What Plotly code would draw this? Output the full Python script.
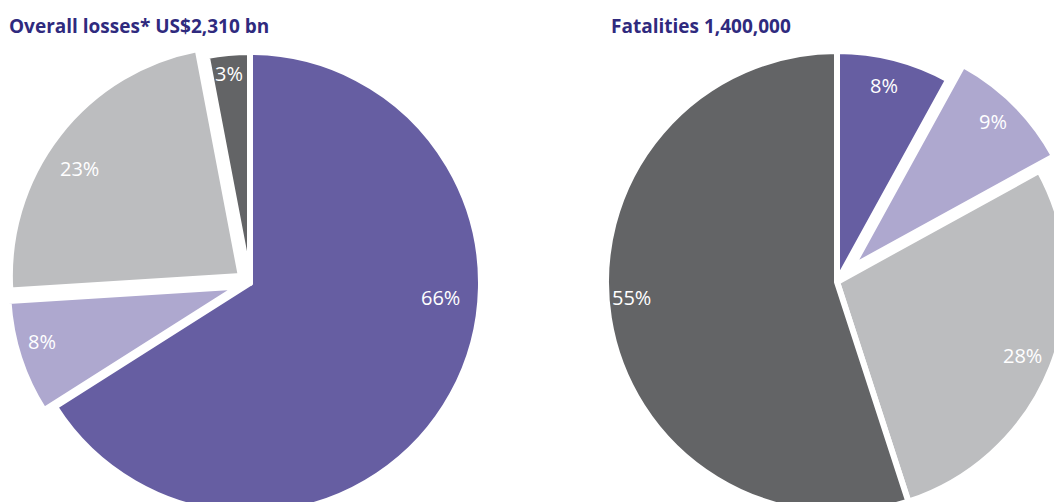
import plotly.graph_objects as go

# Share of overall losses and of fatalities by event category (%)
categories = ["Category A", "Category B", "Category C", "Category D"]
losses_share = [66, 8, 23, 3]
fatalities_share = [8, 9, 28, 55]

losses_title = "Overall losses* US$2,310 bn"
fatalities_title = "Fatalities 1,400,000"

losses_colors = ["#665ea2", "#aea8cf", "#bcbdbf", "#636466"]
fatalities_colors = ["#665ea2", "#aea8cf", "#bcbdbf", "#636466"]

losses_pull = [0, 0.05, 0.05, 0]
fatalities_pull = [0, 0.09, 0, 0]

# Canvas a little larger than the viewport so the pies run off the edges
W, H = 1100, 540


def domain_for(cx, cy, r, pull):
    half = r * (1 + max(pull))
    return dict(
        x=[(cx - half) / W, (cx + half) / W],
        y=[1 - (cy + half) / H, 1 - (cy - half) / H],
    )


fig = go.Figure()
fig.add_trace(go.Pie(
    labels=categories, values=losses_share, sort=False, direction="clockwise",
    rotation=0, pull=losses_pull, textinfo="none", hoverinfo="label+percent",
    marker=dict(colors=losses_colors, line=dict(color="white", width=6)),
    domain=domain_for(250, 283, 231, losses_pull), showlegend=False,
))
fig.add_trace(go.Pie(
    labels=categories, values=fatalities_share, sort=False, direction="clockwise",
    rotation=0, pull=fatalities_pull, textinfo="none", hoverinfo="label+percent",
    marker=dict(colors=fatalities_colors, line=dict(color="white", width=6)),
    domain=domain_for(837, 282, 231, fatalities_pull), showlegend=False,
))

# Percentage labels placed inside each slice
losses_label_xy = [(441, 297), (42, 341), (79, 168), (229, 73)]
fatalities_label_xy = [(884, 85), (993, 122), (1022, 355), (631, 297)]

annotations = []
for vals, spots in ((losses_share, losses_label_xy), (fatalities_share, fatalities_label_xy)):
    for v, (px, py) in zip(vals, spots):
        annotations.append(dict(
            x=px / W, y=1 - py / H, xref="paper", yref="paper",
            text=f"{v}%", showarrow=False, xanchor="center", yanchor="middle",
            font=dict(family="Open Sans", size=20, color="white"),
        ))

for txt, px in ((losses_title, 7), (fatalities_title, 609)):
    annotations.append(dict(
        x=px / W, y=1 - 26 / H, xref="paper", yref="paper",
        text=f"<b>{txt}</b>", showarrow=False, xanchor="left", yanchor="middle",
        font=dict(family="Open Sans", size=19, color="#2f2a7e"),
    ))

fig.update_layout(
    width=W, height=H,
    margin=dict(l=0, r=0, t=0, b=0),
    paper_bgcolor="white", plot_bgcolor="white",
    annotations=annotations,
)

fig.write_html(
    "out.html",
    post_script="document.documentElement.style.overflow='hidden';"
                "document.body.style.overflow='hidden';"
                "document.body.style.margin='0';",
)
